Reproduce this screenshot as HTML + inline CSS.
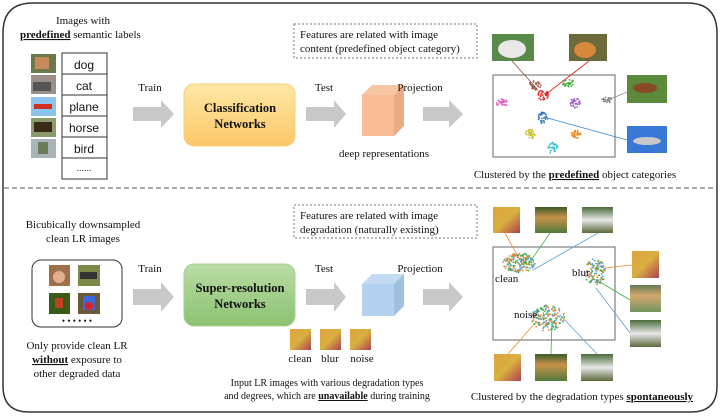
<!DOCTYPE html>
<html><head><meta charset="utf-8">
<style>
html,body{margin:0;padding:0;background:#fff;}
body{width:720px;height:414px;overflow:hidden;}
svg text{font-family:"Liberation Serif",serif;fill:#111;}
.s{font-family:"Liberation Sans",sans-serif;}
</style></head><body>
<svg id="g" width="720" height="414" viewBox="0 0 720 414" xmlns="http://www.w3.org/2000/svg">
<defs>
<linearGradient id="og" x1="0" y1="0" x2="0" y2="1"><stop offset="0" stop-color="#fde7a6"/><stop offset="1" stop-color="#fcc868"/></linearGradient>
<linearGradient id="gg" x1="0" y1="0" x2="0" y2="1"><stop offset="0" stop-color="#b9dca4"/><stop offset="1" stop-color="#8cc272"/></linearGradient>
<linearGradient id="bf" x1="0" y1="0" x2="1" y2="1"><stop offset="0" stop-color="#e0a040"/><stop offset="0.5" stop-color="#d8b040"/><stop offset="1" stop-color="#b04050"/></linearGradient>
<linearGradient id="dg" x1="0" y1="0" x2="0" y2="1"><stop offset="0" stop-color="#3a5a2a"/><stop offset="0.4" stop-color="#c8924a"/><stop offset="1" stop-color="#507a3a"/></linearGradient>
<linearGradient id="cr" x1="0" y1="0" x2="0" y2="1"><stop offset="0" stop-color="#4a6a3a"/><stop offset="0.5" stop-color="#e8e8e8"/><stop offset="1" stop-color="#5a6a3a"/></linearGradient>
</defs>
<path d="M33,3 H687 Q717,3 717,33 V386 Q717,412 691,412 H29 Q3,412 3,386 V33 Q3,3 33,3 Z" fill="none" stroke="#333" stroke-width="1.5"/>
<line x1="4" y1="188" x2="716" y2="188" stroke="#555" stroke-width="1" stroke-dasharray="5,3"/>

<text x="83" y="24" font-size="11" text-anchor="middle">Images with</text>
<text x="20" y="38" font-size="11"><tspan font-weight="bold" text-decoration="underline">predefined</tspan> semantic labels</text>
<rect x="31" y="54" width="25" height="19" fill="#6a7a4a"/><rect x="35" y="57" width="14" height="12" fill="#c88a5a"/>
<rect x="31" y="75" width="25" height="19" fill="#9a9088"/><rect x="33" y="82" width="18" height="9" fill="#555"/>
<rect x="31" y="97" width="25" height="19" fill="#8cc4ec"/><rect x="34" y="104" width="18" height="5" fill="#d03020"/>
<rect x="31" y="118" width="25" height="19" fill="#8a9a6a"/><rect x="34" y="122" width="18" height="10" fill="#3a2a1a"/>
<rect x="31" y="139" width="25" height="19" fill="#a8b4b8"/><rect x="38" y="142" width="10" height="12" fill="#6a7a5a"/>
<g fill="none" stroke="#333" stroke-width="1">
<rect x="62" y="53" width="45" height="126"/>
<line x1="62" y1="74" x2="107" y2="74"/><line x1="62" y1="95" x2="107" y2="95"/><line x1="62" y1="116" x2="107" y2="116"/><line x1="62" y1="137" x2="107" y2="137"/><line x1="62" y1="158" x2="107" y2="158"/>
</g>
<g font-size="12" text-anchor="middle">
<text x="84" y="69" class="s">dog</text><text x="84" y="90" class="s">cat</text><text x="84" y="111" class="s">plane</text><text x="84" y="132" class="s">horse</text><text x="84" y="153" class="s">bird</text><text x="84" y="171" class="s" font-size="9">......</text>
</g>
<text x="150" y="91" font-size="11" text-anchor="middle">Train</text>
<path d="M133,107 H161 V100 L174,114 L161,128 V121 H133 Z" fill="#c8c8c8"/>
<rect x="184" y="84" width="111" height="62" rx="10" fill="url(#og)" stroke="#f5cf7a"/>
<text x="240" y="112" font-size="12.5" font-weight="bold" text-anchor="middle">Classification</text>
<text x="240" y="128" font-size="12.5" font-weight="bold" text-anchor="middle">Networks</text>
<text x="324" y="91" font-size="11" text-anchor="middle">Test</text>
<path d="M306,107 H334 V100 L346,114 L334,128 V121 H306 Z" fill="#c8c8c8"/>
<polygon points="362,95 372,85 404,85 394,95" fill="#f7c6a2"/>
<polygon points="394,95 404,85 404,126 394,136" fill="#e8ab85"/>
<rect x="362" y="95" width="32" height="41" fill="#f8bc94"/>
<text x="384" y="157" font-size="11" text-anchor="middle">deep representations</text>
<rect x="294" y="24" width="183" height="34" fill="none" stroke="#777" stroke-dasharray="2,2"/>
<text x="300" y="38" font-size="11">Features are related with image</text>
<text x="300" y="52" font-size="11">content (predefined object category)</text>
<text x="420" y="91" font-size="11" text-anchor="middle">Projection</text>
<path d="M423,107 H449 V100 L463,114 L449,128 V121 H423 Z" fill="#c8c8c8"/>
<rect x="493" y="75" width="122" height="82" fill="#fff" stroke="#666"/>
<rect x="492" y="34" width="42" height="27" fill="#5a8a4a"/><ellipse cx="512" cy="49" rx="14" ry="9" fill="#e8e8e8"/>
<rect x="569" y="34" width="38" height="27" fill="#6a6a3a"/><ellipse cx="585" cy="50" rx="11" ry="8" fill="#d8883a"/>
<rect x="627" y="75" width="40" height="28" fill="#5a8a3a"/><ellipse cx="645" cy="88" rx="12" ry="5" fill="#8a4a2a"/>
<rect x="627" y="126" width="40" height="27" fill="#3a78d8"/><ellipse cx="647" cy="141" rx="14" ry="4" fill="#c8c8c8"/>
<g stroke-width="0.8" fill="none">
<line x1="512" y1="61" x2="538" y2="90" stroke="#8a4a3a"/>
<line x1="589" y1="61" x2="545" y2="95" stroke="#e02020"/>
<line x1="627" y1="92" x2="608" y2="100" stroke="#888"/>
<line x1="627" y1="140" x2="544" y2="117" stroke="#3a88d8"/>
</g>
<g id="topc"></g>
<text x="575" y="178" font-size="11" text-anchor="middle">Clustered by the <tspan font-weight="bold" text-decoration="underline">predefined</tspan> object categories</text>

<text x="83" y="228" font-size="11" text-anchor="middle">Bicubically downsampled</text>
<text x="83" y="242" font-size="11" text-anchor="middle">clean LR images</text>
<rect x="32" y="260" width="90" height="67" rx="9" fill="none" stroke="#333"/>
<rect x="49" y="265" width="21" height="21" fill="#a0704a"/><circle cx="59" cy="277" r="6" fill="#e0b090"/>
<rect x="78" y="265" width="22" height="21" fill="#7a8a4a"/><rect x="80" y="272" width="17" height="7" fill="#333"/>
<rect x="49" y="293" width="21" height="21" fill="#3a5a1a"/><rect x="55" y="298" width="8" height="10" fill="#c04020"/>
<rect x="78" y="293" width="22" height="21" fill="#6a5a3a"/><rect x="83" y="296" width="12" height="14" fill="#3a6ad8"/><circle cx="89" cy="306" r="4" fill="#e02020"/>
<text x="77" y="324" font-size="9" text-anchor="middle">• • • • • •</text>
<text x="77" y="349" font-size="11" text-anchor="middle">Only provide clean LR</text>
<text x="77" y="363" font-size="11" text-anchor="middle"><tspan font-weight="bold" text-decoration="underline">without</tspan> exposure to</text>
<text x="77" y="377" font-size="11" text-anchor="middle">other degraded data</text>
<text x="150" y="272" font-size="11" text-anchor="middle">Train</text>
<path d="M133,289 H161 V282 L174,297 L161,312 V305 H133 Z" fill="#c8c8c8"/>
<rect x="184" y="264" width="111" height="62" rx="10" fill="url(#gg)" stroke="#a8d090"/>
<text x="240" y="292" font-size="12.5" font-weight="bold" text-anchor="middle">Super-resolution</text>
<text x="240" y="308" font-size="12.5" font-weight="bold" text-anchor="middle">Networks</text>
<text x="324" y="272" font-size="11" text-anchor="middle">Test</text>
<path d="M306,289 H334 V282 L346,297 L334,312 V305 H306 Z" fill="#c8c8c8"/>
<polygon points="362,284 372,274 404,274 394,284" fill="#c2dbf2"/>
<polygon points="394,284 404,274 404,306 394,316" fill="#9fbfdf"/>
<rect x="362" y="284" width="32" height="32" fill="#b4d2f0"/>
<rect x="290" y="329" width="21" height="21" fill="url(#bf)"/>
<rect x="320" y="329" width="21" height="21" fill="url(#bf)"/>
<rect x="350" y="329" width="21" height="21" fill="url(#bf)"/>
<text x="300" y="362" font-size="11" text-anchor="middle">clean</text>
<text x="330" y="362" font-size="11" text-anchor="middle">blur</text>
<text x="362" y="362" font-size="11" text-anchor="middle">noise</text>
<text x="327" y="386" font-size="10" text-anchor="middle">Input LR images with various degradation types</text>
<text x="327" y="399" font-size="10" text-anchor="middle">and degrees, which are <tspan font-weight="bold" text-decoration="underline">unavailable</tspan> during training</text>
<rect x="294" y="205" width="183" height="33" fill="none" stroke="#777" stroke-dasharray="2,2"/>
<text x="300" y="219" font-size="11">Features are related with image</text>
<text x="300" y="233" font-size="11">degradation (naturally existing)</text>
<text x="420" y="272" font-size="11" text-anchor="middle">Projection</text>
<path d="M423,289 H449 V282 L463,297 L449,312 V305 H423 Z" fill="#c8c8c8"/>
<rect x="493" y="247" width="122" height="93" fill="#fff" stroke="#666"/>
<rect x="493" y="207" width="27" height="26" fill="url(#bf)"/>
<rect x="535" y="207" width="32" height="26" fill="url(#dg)"/>
<rect x="582" y="207" width="31" height="26" fill="url(#cr)"/>
<rect x="632" y="251" width="27" height="27" fill="url(#bf)"/>
<rect x="630" y="285" width="31" height="27" fill="url(#dg)" opacity="0.8"/>
<rect x="630" y="320" width="31" height="27" fill="url(#cr)"/>
<rect x="494" y="354" width="27" height="27" fill="url(#bf)"/>
<rect x="535" y="354" width="32" height="27" fill="url(#dg)"/>
<rect x="581" y="354" width="32" height="27" fill="url(#cr)"/>
<g stroke-width="0.8" fill="none">
<line x1="505" y1="233" x2="520" y2="260" stroke="#f08a30"/>
<line x1="550" y1="233" x2="530" y2="262" stroke="#40b040"/>
<line x1="598" y1="233" x2="533" y2="270" stroke="#5aa0d8"/>
<line x1="632" y1="265" x2="605" y2="268" stroke="#f08a30"/>
<line x1="630" y1="300" x2="600" y2="282" stroke="#40b040"/>
<line x1="630" y1="333" x2="596" y2="288" stroke="#5aa0d8"/>
<line x1="508" y1="354" x2="535" y2="323" stroke="#f08a30"/>
<line x1="551" y1="354" x2="552" y2="320" stroke="#40b040"/>
<line x1="597" y1="354" x2="560" y2="315" stroke="#5aa0d8"/>
</g>
<g id="botc"></g>
<text x="495" y="282" font-size="11">clean</text>
<text x="572" y="276" font-size="11">blur</text>
<text x="514" y="318" font-size="11">noise</text>
<text x="582" y="400" font-size="11" text-anchor="middle">Clustered by the degradation types <tspan font-weight="bold" text-decoration="underline">spontaneously</tspan></text>
</svg>
<script>
(function(){
var s=7;function r(){s=(s*16807)%2147483647;return s/2147483647;}
var NS="http://www.w3.org/2000/svg";
function cl(g,cx,cy,rx,ry,n,cols){for(var i=0;i<n;i++){var a=r()*6.283,d=Math.sqrt(r());var c=document.createElementNS(NS,"circle");c.setAttribute("cx",cx+Math.cos(a)*d*rx);c.setAttribute("cy",cy+Math.sin(a)*d*ry);c.setAttribute("r",0.9);c.setAttribute("fill",cols[Math.floor(r()*cols.length)]);g.appendChild(c);}}
var t=document.getElementById("topc");
cl(t,535,85,6,5,30,["#9a5a4a"]);cl(t,543,95,6,5,35,["#e02828"]);cl(t,568,83,6,4,30,["#40b040"]);
cl(t,502,103,6,4,30,["#e060c0"]);cl(t,575,103,5,5,30,["#9a60c8"]);cl(t,607,100,6,3,22,["#888"]);
cl(t,543,118,5,6,30,["#2a78c8"]);cl(t,530,134,5,5,30,["#c8c030"]);cl(t,576,134,5,4,30,["#f08a20"]);cl(t,553,148,5,6,30,["#30c0d0"]);
var b=document.getElementById("botc");var C=["#f08a30","#40b040","#5aa0d8"];
cl(b,519,263,16,10,180,C);cl(b,595,272,11,13,120,C);cl(b,548,318,17,13,170,C);
})();
</script>
</body></html>
